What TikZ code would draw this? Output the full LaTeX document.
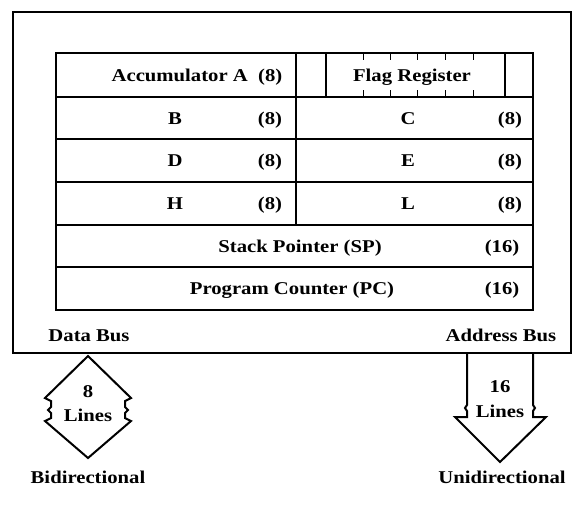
\documentclass[tikz,border=0pt]{standalone}
\usepackage{fontspec}
\setmainfont{Liberation Serif}[FakeStretch=1.15]
\begin{document}
\begin{tikzpicture}[x=1pt,y=-1pt,
  lbl/.style={font=\bfseries\fontsize{18}{20}\selectfont, inner sep=0pt, anchor=base},
  frame/.style={line width=2.6pt},
  gridline/.style={line width=1.5pt},
  busarrow/.style={line width=2pt, line join=miter}]
\useasboundingbox (0,0) rectangle (575,507);
% outer frame
\draw[frame] (13,12) rectangle (571,353);
% register table
\draw[gridline] (56,53) rectangle (533,310);
\foreach \yy in {97,139,182,225,267} \draw[gridline] (56,\yy) -- (533,\yy);
\draw[gridline] (296,53) -- (296,225);
\draw[gridline] (326,53) -- (326,97);
\draw[gridline] (505,53) -- (505,97);
\foreach \xx in {363,390,417,445,473} {
  \draw[line width=1pt] (\xx,53) -- (\xx,60);
  \draw[line width=1pt] (\xx,90) -- (\xx,97);
}
% labels
\node[lbl] (acc) at (197,81) {Accumulator A\ \ (8)};
\node[lbl] (flag) at (412,81) {Flag Register};
\node[lbl] (b) at (175,124) {B};
\node[lbl] (b8) at (270,124) {(8)};
\node[lbl] (c) at (408,124) {C};
\node[lbl] (c8) at (510,124) {(8)};
\node[lbl] (d) at (175,166) {D};
\node[lbl] (d8) at (270,166) {(8)};
\node[lbl] (e) at (408,166) {E};
\node[lbl] (e8) at (510,166) {(8)};
\node[lbl] (h) at (175,209) {H};
\node[lbl] (h8) at (270,209) {(8)};
\node[lbl] (l) at (408,209) {L};
\node[lbl] (l8) at (510,209) {(8)};
\node[lbl] (sp) at (300,252) {Stack Pointer (SP)};
\node[lbl] (sp16) at (502,252) {(16)};
\node[lbl] (pc) at (292,294) {Program Counter (PC)};
\node[lbl] (pc16) at (502,294) {(16)};
\node[lbl] (dbus) at (89,341) {Data Bus};
\node[lbl] (abus) at (501,341) {Address Bus};
% bidirectional arrow
\draw[busarrow] (88,356) -- (45,398) -- (51,401) -- (51,407) -- (48,410) -- (51,413) -- (51,418)
  -- (45,421) -- (88,458) -- (131,421) -- (125,418) -- (125,413) -- (128,410) -- (125,407)
  -- (125,401) -- (131,398) -- cycle;
\node[lbl] (n8) at (88,397) {8};
\node[lbl] (n8l) at (88,421) {Lines};
\node[lbl] (bidir) at (88,483) {Bidirectional};
% unidirectional arrow
\draw[busarrow] (467,354) -- (467,405) -- (465,408) -- (467,411) -- (467,417) -- (455,417)
  -- (500,462) -- (546,417) -- (533,417) -- (533,411) -- (535,408) -- (533,405) -- (533,354);
\node[lbl] (n16) at (500,392) {16};
\node[lbl] (n16l) at (500,417) {Lines};
\node[lbl] (unidir) at (502,483) {Unidirectional};
\end{tikzpicture}
\end{document}
